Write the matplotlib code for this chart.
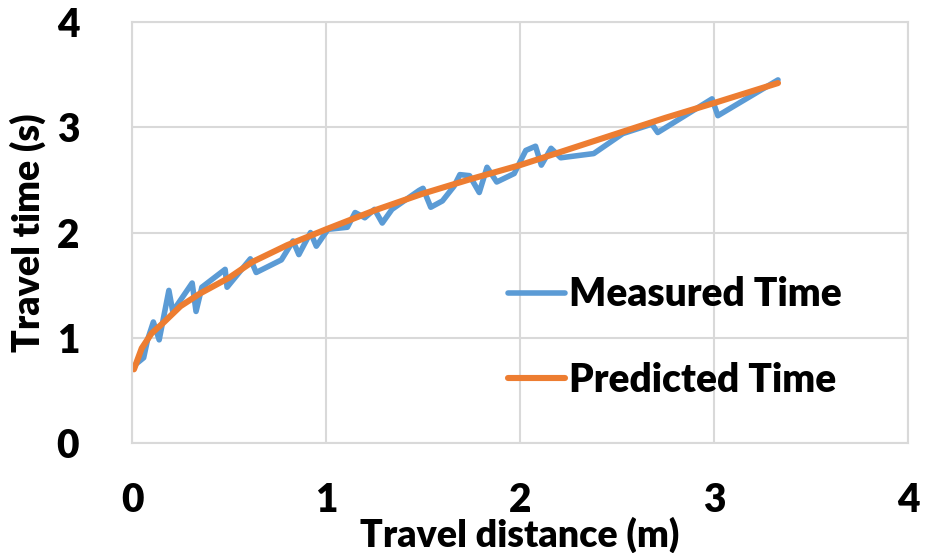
import matplotlib
matplotlib.use("Agg")
import matplotlib.pyplot as plt

plt.rcParams['font.family'] = ['Lato', 'DejaVu Sans']
plt.rcParams['font.weight'] = 'bold'

# measured travel time
meas_dist = [0.02, 0.06, 0.08, 0.11, 0.14, 0.19, 0.21, 0.31, 0.33, 0.36,
             0.48, 0.49, 0.61, 0.64, 0.77, 0.83, 0.86, 0.92, 0.95, 1.01,
             1.11, 1.15, 1.20, 1.25, 1.29, 1.34, 1.48, 1.50, 1.54, 1.60,
             1.66, 1.69, 1.74, 1.79, 1.83, 1.88, 1.97, 2.03, 2.08, 2.11,
             2.16, 2.21, 2.38, 2.53, 2.68, 2.71, 2.99, 3.02, 3.33]
meas_time = [0.75, 0.81, 0.98, 1.15, 0.98, 1.45, 1.25, 1.52, 1.25, 1.48,
             1.65, 1.48, 1.75, 1.62, 1.74, 1.92, 1.79, 2.00, 1.87, 2.03,
             2.05, 2.19, 2.14, 2.22, 2.09, 2.22, 2.40, 2.42, 2.24, 2.30,
             2.44, 2.55, 2.54, 2.38, 2.62, 2.48, 2.56, 2.78, 2.82, 2.64,
             2.80, 2.71, 2.75, 2.94, 3.03, 2.95, 3.27, 3.11, 3.45]

# predicted travel time
pred_dist = [0.01, 0.05, 0.10, 0.16, 0.25, 0.35, 0.50, 0.62, 0.80, 1.00,
             1.25, 1.50, 1.75, 2.00, 2.25, 2.50, 2.75, 3.00, 3.33]
pred_time = [0.70, 0.90, 1.04, 1.14, 1.30, 1.42, 1.57, 1.72, 1.88, 2.03,
             2.21, 2.37, 2.51, 2.64, 2.79, 2.94, 3.09, 3.23, 3.42]

fig = plt.figure(figsize=(9.35, 5.53), dpi=100)
ax = fig.add_axes([0.1412, 0.1989, 0.8299, 0.7613])

ax.plot(meas_dist, meas_time, color='#5B9BD5', lw=4.0,
        solid_joinstyle='round', solid_capstyle='round', label='Measured Time')
ax.plot(pred_dist, pred_time, color='#ED7D31', lw=4.4,
        solid_capstyle='round', label='Predicted Time')

ax.set_xlim(0, 4)
ax.set_ylim(0, 4)
ax.set_xticks([0, 1, 2, 3, 4])
ax.set_yticks([0, 1, 2, 3, 4])
ax.grid(True, color='#D9D9D9', lw=1.5)
ax.set_axisbelow(True)
for s in ax.spines.values():
    s.set_color('#D9D9D9')
    s.set_linewidth(1.5)
ax.tick_params(length=0, labelsize=28)
for lab in ax.get_xticklabels() + ax.get_yticklabels():
    lab.set_fontweight('heavy')
ax.tick_params(axis='y', pad=38)
ax.tick_params(axis='x', pad=28)

ax.set_xlabel('Travel distance (m)', fontsize=27, fontweight='heavy', labelpad=-2)
ax.set_ylabel('Travel time (s)', fontsize=27, fontweight='heavy', labelpad=8)

leg = ax.legend(loc='center left', bbox_to_anchor=(0.485, 0.25), frameon=False,
                fontsize=28, handlelength=1.45, handletextpad=0.12,
                labelspacing=1.25, borderpad=0, borderaxespad=0)
for t in leg.get_texts():
    t.set_fontweight('heavy')

fig.savefig('out.png', dpi=100)
